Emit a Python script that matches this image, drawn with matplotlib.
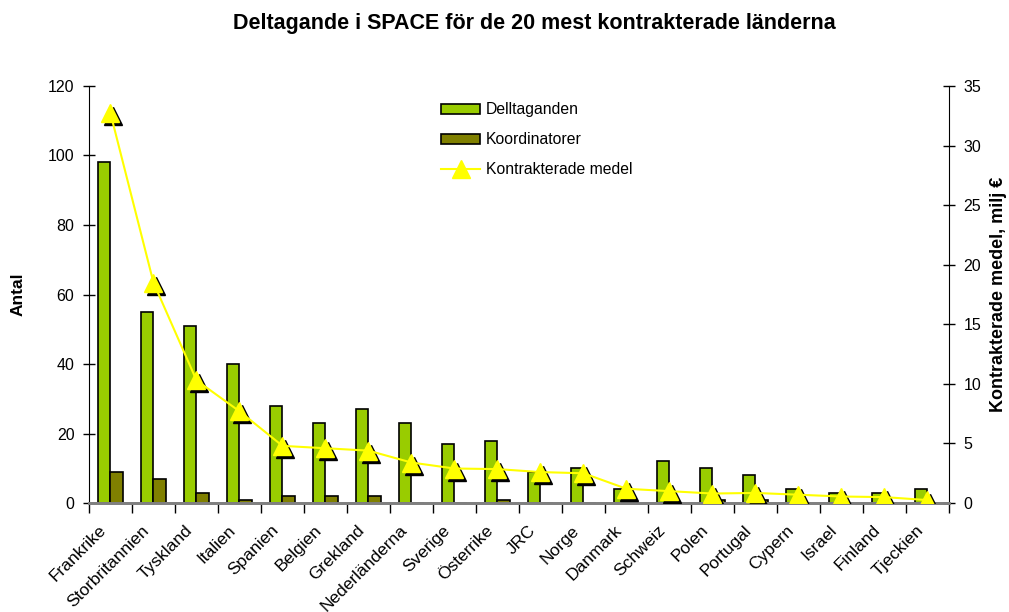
"""Deltagande i SPACE - bars for antal, line for kontrakterade medel."""
import matplotlib
matplotlib.use("Agg")
import matplotlib.pyplot as plt
import matplotlib.transforms as mtransforms
import numpy as np

plt.rcParams["font.family"] = ["Liberation Sans", "DejaVu Sans"]

countries = ["Frankrike", "Storbritannien", "Tyskland", "Italien", "Spanien",
             "Belgien", "Grekland", "Nederländerna", "Sverige", "Österrike",
             "JRC", "Norge", "Danmark", "Schweiz", "Polen", "Portugal",
             "Cypern", "Israel", "Finland", "Tjeckien"]
deltaganden = [98, 55, 51, 40, 28, 23, 27, 23, 17, 18,
               9, 10, 4, 12, 10, 8, 4, 3, 3, 4]
koordinatorer = [9, 7, 3, 1, 2, 2, 2, 0, 0, 1,
                 0, 0, 0, 0, 1, 1, 0, 0, 0, 0]
medel = [32.7, 18.5, 10.3, 7.7, 4.8, 4.6, 4.4, 3.4, 2.9, 2.85,
         2.6, 2.5, 1.2, 1.0, 0.8, 0.85, 0.7, 0.55, 0.5, 0.25]

GREEN = "#99CC00"
OLIVE = "#808000"
YELLOW = "#FFFF00"

fig = plt.figure(figsize=(10.09, 6.12), dpi=100)
ax = fig.add_axes([0.0882, 0.178, 0.8523, 0.6815])
ax2 = ax.twinx()

x = np.arange(len(countries))
w = 0.29
ax.bar(x - w / 2, deltaganden, width=w, color=GREEN, edgecolor="black",
       linewidth=1.2, label="Delltaganden", zorder=2)
ax.bar(x + w / 2, koordinatorer, width=w, color=OLIVE, edgecolor="black",
       linewidth=1.2, label="Koordinatorer", zorder=2)

# black drop shadow behind the triangles
shadow = mtransforms.offset_copy(ax2.transData, fig=fig, x=3, y=-3, units="dots")
ax2.plot(x, medel, linestyle="none", marker="^", ms=13, color="black",
         transform=shadow, zorder=3)
ax2.plot(x, medel, "-", color=YELLOW, lw=1.5, marker="^", ms=13,
         mfc=YELLOW, mec=YELLOW, label="Kontrakterade medel", zorder=4)

ax.set_xlim(-0.5, len(countries) - 0.5)
ax.set_ylim(0, 120)
ax2.set_ylim(0, 35)
ax.set_yticks(range(0, 121, 20))
ax2.set_yticks(range(0, 36, 5))

ax.set_xticks(np.arange(len(countries) + 1) - 0.5)
ax.set_xticklabels([])
ax.set_xticks(x, minor=True)
ax.set_xticklabels(countries, minor=True, rotation=45, ha="right",
                   rotation_mode="anchor", fontsize=12.5)
ax.tick_params(axis="x", which="minor", length=0, pad=14)
ax.tick_params(axis="x", which="major", direction="out", length=7, width=1)
# labels sit a little left of the category centre, like the original
shift = mtransforms.ScaledTranslation(-0.12, 0, fig.dpi_scale_trans)
for lab in ax.get_xticklabels(minor=True):
    lab.set_transform(lab.get_transform() + shift)

ax.tick_params(axis="y", direction="inout", length=9, width=1, labelsize=11.5, pad=6)
ax2.tick_params(axis="y", direction="inout", length=9, width=1, labelsize=11.5, pad=6)

for a in (ax, ax2):
    a.spines["top"].set_visible(False)
    a.spines["bottom"].set_color("#808080")
    a.spines["bottom"].set_linewidth(2)
ax.spines["right"].set_visible(False)
ax2.spines["left"].set_visible(False)

ax.set_ylabel("Antal", fontsize=12.5, fontweight="bold", labelpad=16)
ax2.set_ylabel("Kontrakterade medel, milj €", fontsize=13, fontweight="bold",
               labelpad=6)

fig.suptitle("Deltagande i SPACE för de 20 mest kontrakterade länderna",
             fontsize=15.5, fontweight="bold", x=0.53, y=0.978)

h1, l1 = ax.get_legend_handles_labels()
h2, l2 = ax2.get_legend_handles_labels()
ax2.legend(h1 + h2, l1 + l2, loc="upper left", bbox_to_anchor=(0.393, 0.995),
           frameon=False, fontsize=11.3, handlelength=2.5, handleheight=0.6,
           labelspacing=0.95, handletextpad=0.33)

fig.savefig("out.png", dpi=100)
